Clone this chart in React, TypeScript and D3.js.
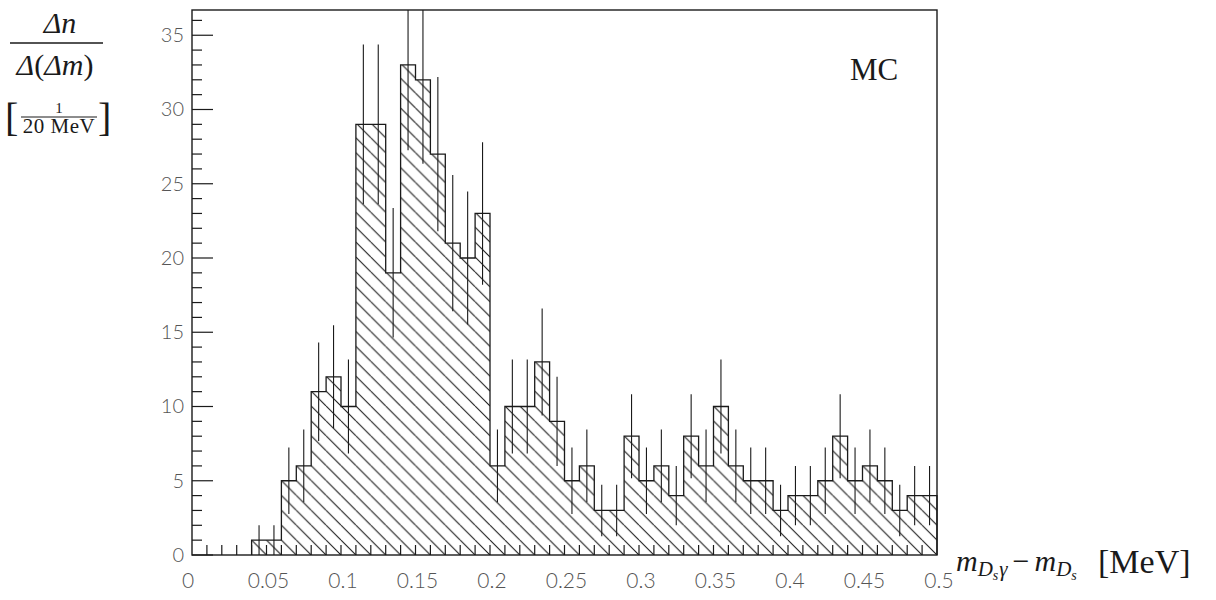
import React, { useEffect, useRef } from 'react';
import * as d3 from 'd3';

// bin contents, 0.01 wide bins from 0 to 0.5
const counts = [
  0, 0, 0, 0, 1, 1, 5, 6, 11, 12,
  10, 29, 29, 19, 33, 32, 27, 21, 20, 23,
  6, 10, 10, 13, 9, 5, 6, 3, 3, 8,
  5, 6, 4, 8, 6, 10, 6, 5, 5, 3,
  4, 4, 5, 8, 5, 6, 5, 3, 4, 4
];
const binWidth = 0.01;

const xTickValues = [0, 0.05, 0.1, 0.15, 0.2, 0.25, 0.3, 0.35, 0.4, 0.45, 0.5];
const xTickLabels = ['0', '0.05', '0.1', '0.15', '0.2', '0.25', '0.3', '0.35', '0.4', '0.45', '0.5'];
const yTickValues = [0, 5, 10, 15, 20, 25, 30, 35];

const App: React.FC = () => {
  const svgRef = useRef<SVGSVGElement>(null);

  useEffect(() => {
    if (!svgRef.current) return;
    const svg = d3.select(svgRef.current);
    svg.selectAll('*').remove();

    const width = 1216;
    const height = 600;
    const left = 192;
    const right = 937;
    const top = 10;
    const bottom = 555;

    svg.attr('width', width).attr('height', height).attr('viewBox', `0 0 ${width} ${height}`);

    const x = d3.scaleLinear().domain([0, 0.5]).range([left, right]);
    const y = d3.scaleLinear().domain([0, 36.7]).range([bottom, top]);

    const ink = '#1a1a1a';
    const tickFont = 'Lato, "Open Sans", sans-serif';
    const serif = '"Liberation Serif", "DejaVu Serif", serif';

    const defs = svg.append('defs');
    const step = x(binWidth) - x(0);
    const pat = defs
      .append('pattern')
      .attr('id', 'hatch')
      .attr('patternUnits', 'userSpaceOnUse')
      .attr('x', left)
      .attr('y', bottom)
      .attr('width', step)
      .attr('height', step);
    // "\" direction hatching
    pat
      .append('path')
      .attr('d', `M0,0 L${step},${step} M${-step},0 L0,${step} M${step},0 L${2 * step},${step}`)
      .attr('stroke', ink)
      .attr('stroke-width', 1.1)
      .attr('fill', 'none');

    defs
      .append('clipPath')
      .attr('id', 'frame-clip')
      .append('rect')
      .attr('x', left)
      .attr('y', top)
      .attr('width', right - left)
      .attr('height', bottom - top);

    // step outline of the histogram
    const first = counts.findIndex((c) => c > 0);
    const pts: [number, number][] = [[x(first * binWidth), y(0)]];
    for (let i = first; i < counts.length; i++) {
      pts.push([x(i * binWidth), y(counts[i])]);
      pts.push([x((i + 1) * binWidth), y(counts[i])]);
    }
    pts.push([x(counts.length * binWidth), y(0)]);

    const line = d3.line();
    svg
      .append('path')
      .attr('d', line(pts) + 'Z')
      .attr('fill', 'url(#hatch)')
      .attr('stroke', 'none');
    svg
      .append('path')
      .attr('d', line(pts) || '')
      .attr('fill', 'none')
      .attr('stroke', ink)
      .attr('stroke-width', 1.3);

    // error bars, sqrt(N)
    const bars = svg.append('g').attr('clip-path', 'url(#frame-clip)');
    counts.forEach((c, i) => {
      if (c <= 0) return;
      const e = Math.sqrt(c);
      const cx = x((i + 0.5) * binWidth);
      bars
        .append('line')
        .attr('x1', cx)
        .attr('x2', cx)
        .attr('y1', y(Math.max(0, c - e)))
        .attr('y2', y(c + e))
        .attr('stroke', ink)
        .attr('stroke-width', 1.1);
    });

    // frame
    svg
      .append('rect')
      .attr('x', left)
      .attr('y', top)
      .attr('width', right - left)
      .attr('height', bottom - top)
      .attr('fill', 'none')
      .attr('stroke', ink)
      .attr('stroke-width', 1.4);

    // y ticks
    d3.range(0, 37).forEach((v) => {
      const major = v % 5 === 0;
      svg
        .append('line')
        .attr('x1', left)
        .attr('x2', left + (major ? 21 : 10))
        .attr('y1', y(v))
        .attr('y2', y(v))
        .attr('stroke', ink)
        .attr('stroke-width', 1.2);
    });
    yTickValues.forEach((v) => {
      svg
        .append('text')
        .attr('x', 184)
        .attr('y', y(v))
        .attr('dy', '0.35em')
        .attr('text-anchor', 'end')
        .attr('font-family', tickFont)
        .attr('font-weight', 300)
        .attr('font-size', 20)
        .attr('fill', '#555')
        .text(v);
    });

    // x ticks
    d3.range(1, 50).forEach((i) => {
      const xv = x(i * binWidth);
      svg
        .append('line')
        .attr('x1', xv)
        .attr('x2', xv)
        .attr('y1', bottom)
        .attr('y2', bottom - 10)
        .attr('stroke', ink)
        .attr('stroke-width', 1.2);
    });
    xTickValues.forEach((v, i) => {
      svg
        .append('text')
        .attr('x', x(v) + (i === 0 ? -4 : 2))
        .attr('y', 588)
        .attr('text-anchor', 'middle')
        .attr('font-family', tickFont)
        .attr('font-weight', 300)
        .attr('font-size', 21)
        .attr('fill', '#555')
        .text(xTickLabels[i]);
    });

    // MC label
    svg
      .append('text')
      .attr('x', 850)
      .attr('y', 80)
      .attr('font-family', serif)
      .attr('font-size', 31)
      .attr('fill', ink)
      .text('MC');

    // y title: Δn / Δ(Δm) [1/20 MeV]
    const yt = svg.append('g').attr('fill', ink).attr('font-family', serif);
    yt.append('text')
      .attr('x', 60)
      .attr('y', 33)
      .attr('text-anchor', 'middle')
      .attr('font-size', 30)
      .attr('font-style', 'italic')
      .text('Δn');
    yt.append('line')
      .attr('x1', 10)
      .attr('x2', 103)
      .attr('y1', 43)
      .attr('y2', 43)
      .attr('stroke', ink)
      .attr('stroke-width', 1.3);
    const den = yt
      .append('text')
      .attr('x', 55)
      .attr('y', 75)
      .attr('text-anchor', 'middle')
      .attr('font-size', 30);
    den.append('tspan').attr('font-style', 'italic').text('Δ');
    den.append('tspan').text('(');
    den.append('tspan').attr('font-style', 'italic').text('Δm');
    den.append('tspan').text(')');

    yt.append('text').attr('x', 5).attr('y', 131).attr('font-size', 40).attr('font-weight', 300).text('[');
    yt.append('text').attr('x', 98).attr('y', 131).attr('font-size', 40).attr('font-weight', 300).text(']');
    yt.append('text').attr('x', 59).attr('y', 113).attr('text-anchor', 'middle').attr('font-size', 15).text('1');
    yt.append('line')
      .attr('x1', 21)
      .attr('x2', 97)
      .attr('y1', 117)
      .attr('y2', 117)
      .attr('stroke', ink)
      .attr('stroke-width', 1);
    yt.append('text')
      .attr('x', 59)
      .attr('y', 133)
      .attr('text-anchor', 'middle')
      .attr('font-size', 21)
      .attr('letter-spacing', 0.5)
      .text('20 MeV');

    // x title
    const xt = svg
      .append('text')
      .attr('x', 956)
      .attr('y', 571)
      .attr('font-family', serif)
      .attr('fill', ink)
      .attr('font-size', 30);
    xt.append('tspan').attr('font-style', 'italic').text('m');
    xt.append('tspan').attr('font-style', 'italic').attr('font-size', 21).attr('dy', 5).text('D');
    xt.append('tspan').attr('font-style', 'italic').attr('font-size', 14).attr('dy', 4).text('s');
    xt.append('tspan').attr('font-style', 'italic').attr('font-size', 21).attr('dy', -4).attr('dx', 1).text('γ');
    xt.append('tspan').attr('dy', -5).attr('dx', 5).text('−');
    xt.append('tspan').attr('font-style', 'italic').attr('dx', 5).text('m');
    xt.append('tspan').attr('font-style', 'italic').attr('font-size', 21).attr('dy', 5).text('D');
    xt.append('tspan').attr('font-style', 'italic').attr('font-size', 14).attr('dy', 4).text('s');
    svg
      .append('text')
      .attr('x', 1098)
      .attr('y', 573)
      .attr('font-family', serif)
      .attr('fill', ink)
      .attr('font-size', 34)
      .text('[MeV]');
  }, []);

  return (
    <div style={{ position: 'absolute', left: 0, top: 0 }}>
      <svg ref={svgRef} />
    </div>
  );
};

export default App;
